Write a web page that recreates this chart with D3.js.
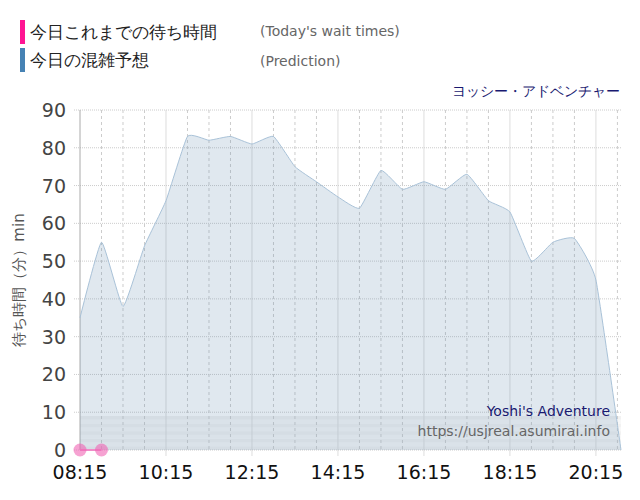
<!DOCTYPE html>
<html><head><meta charset="utf-8">
<script src="https://cdn.jsdelivr.net/npm/d3@7"></script>
<style>body{margin:0;background:#fff}text{font-family:"DejaVu Sans",sans-serif}</style>
</head><body><svg id="c" width="640" height="500"></svg>
<script>
// prediction, every 30 min from 08:15, last point closes at 20:50
var times = ["08:15","08:45","09:15","09:45","10:15","10:45","11:15","11:45","12:15","12:45","13:15","13:45","14:15","14:45","15:15","15:45","16:15","16:45","17:15","17:45","18:15","18:45","19:15","19:45","20:15","20:50"];
var predicted = [35,55,38,54,66,83,82,83,81,83,75,71,67,64,74,69,71,69,73,66,63,50,55,56,45,0];
var actualTimes = ["08:15","08:45"];
var actual = [0,0];
var xTicks = ["08:15","10:15","12:15","14:15","16:15","18:15","20:15"];
var yTicks = [0,10,20,30,40,50,60,70,80,90];

var svg = d3.select("#c");
var m = {l: 80, r: 621, t: 110, b: 450};
function mins(s) { var p = s.split(":"); return +p[0] * 60 + +p[1]; }
var x = d3.scaleLinear().domain([mins("08:15"), mins("20:50")]).range([m.l, m.r]);
var y = d3.scaleLinear().domain([0, 90]).range([m.b, m.t]);

// alternating bands
for (var i = 0; i < 9; i++) {
  svg.append("rect").attr("x", m.l).attr("width", m.r - m.l)
    .attr("y", y(i + 1)).attr("height", y(i) - y(i + 1))
    .attr("fill", i % 2 ? "#f8f8f8" : "#f2f2f2");
}
// vertical grid every 30 min
d3.range(mins("08:45"), mins("20:50"), 30).forEach(function (t) {
  var major = (t - mins("08:15")) % 120 === 0;
  svg.append("line").attr("x1", x(t)).attr("x2", x(t)).attr("y1", m.t).attr("y2", m.b + (major ? 6 : 0))
    .attr("stroke", major ? "#ddd" : "#ccc").attr("stroke-dasharray", major ? null : "3,3");
});
yTicks.forEach(function (v) {
  svg.append("line").attr("x1", m.l - 6).attr("x2", m.r).attr("y1", y(v)).attr("y2", y(v))
    .attr("stroke", "#ccc").attr("stroke-dasharray", "1,1");
  svg.append("text").attr("x", m.l - 14).attr("y", y(v) + 7).attr("text-anchor", "end")
    .attr("font-size", 19).attr("fill", "#444").text(v);
});
svg.append("line").attr("x1", m.l).attr("x2", m.l).attr("y1", m.t).attr("y2", m.b).attr("stroke", "#aaa");

var pts = times.map(function (t, i) { return [x(mins(t)), y(predicted[i])]; });
var crv = d3.curveCardinal.tension(0.6);
svg.append("path").datum(pts)
  .attr("d", d3.area().x(function (d) { return d[0]; }).y0(y(0)).y1(function (d) { return d[1]; }).curve(crv))
  .attr("fill", "rgba(100,140,175,0.2)");
svg.append("path").datum(pts)
  .attr("d", d3.line().curve(crv))
  .attr("fill", "none").attr("stroke", "#a9c2d8").attr("stroke-width", 1);

var apts = actualTimes.map(function (t, i) { return [x(mins(t)), y(actual[i])]; });
svg.append("path").datum(apts).attr("d", d3.line()).attr("stroke", "#f08cc8").attr("stroke-width", 2);
svg.selectAll(".dot").data(apts).enter().append("circle")
  .attr("cx", function (d) { return d[0]; }).attr("cy", function (d) { return d[1]; })
  .attr("r", 6.5).attr("fill", "rgba(240,100,180,0.6)");

xTicks.forEach(function (t) {
  svg.append("text").attr("x", x(mins(t))).attr("y", 479).attr("text-anchor", "middle")
    .attr("font-size", 19).attr("fill", "#111").text(t);
});

svg.append("text").attr("transform", "translate(24,280) rotate(-90)").attr("text-anchor", "middle")
  .attr("font-size", 15).attr("fill", "#555").text("待ち時間（分）min");

// legend
svg.append("rect").attr("x", 20).attr("y", 20).attr("width", 5).attr("height", 24).attr("fill", "#ff1493");
svg.append("text").attr("x", 30).attr("y", 38).attr("font-size", 17).attr("fill", "#222").text("今日これまでの待ち時間");
svg.append("text").attr("x", 260).attr("y", 36).attr("font-size", 14).attr("fill", "#666").text("(Today's wait times)");
svg.append("rect").attr("x", 20).attr("y", 48).attr("width", 5).attr("height", 24).attr("fill", "#4682b4");
svg.append("text").attr("x", 30).attr("y", 66).attr("font-size", 17).attr("fill", "#222").text("今日の混雑予想");
svg.append("text").attr("x", 260).attr("y", 66).attr("font-size", 14).attr("fill", "#666").text("(Prediction)");

svg.append("text").attr("x", 620).attr("y", 96).attr("text-anchor", "end").attr("font-size", 14).attr("fill", "#191970").text("ヨッシー・アドベンチャー");
svg.append("text").attr("x", 610).attr("y", 416).attr("text-anchor", "end").attr("font-size", 14).attr("fill", "#191970").text("Yoshi's Adventure");
svg.append("text").attr("x", 610).attr("y", 436).attr("text-anchor", "end").attr("font-size", 14).attr("fill", "#666").text("https://usjreal.asumirai.info");
</script></body></html>
